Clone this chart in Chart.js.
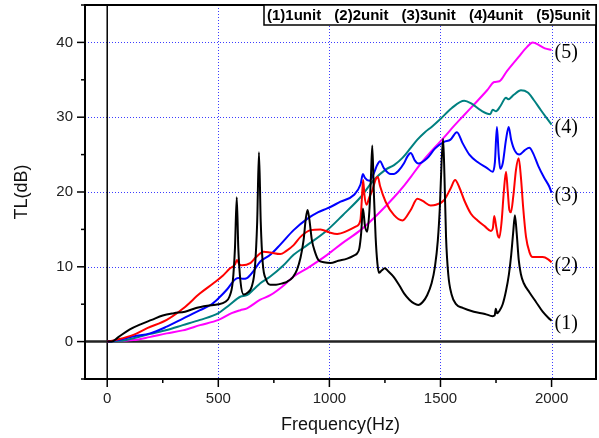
<!DOCTYPE html>
<html>
<head>
<meta charset="utf-8">
<script src="https://cdn.jsdelivr.net/npm/chart.js@4.4.1/dist/chart.umd.min.js"></script>
<style>
  body { margin: 0; background: #fff; }
  canvas { display: block; }
</style>
</head>
<body>
<canvas id="tlChart" width="599" height="438"></canvas>
<script>
// (1) 1 unit
const freq1 = [0, 20, 50, 100, 150, 200, 250, 300, 350, 400, 450, 500, 530, 550, 565, 575, 583, 590, 600, 614, 630, 651, 665, 675, 683, 691, 700, 715, 734, 760, 790, 809, 835, 854, 870, 884, 894, 902, 910, 921, 935, 951, 975, 1005, 1040, 1080, 1110, 1125, 1135, 1143, 1151, 1160, 1170, 1180, 1187, 1193, 1200, 1208, 1216, 1223, 1235, 1249, 1265, 1291, 1315, 1336, 1360, 1381, 1400, 1420, 1440, 1460, 1475, 1488, 1498, 1505, 1512, 1518, 1525, 1535, 1550, 1570, 1600, 1650, 1700, 1735, 1744, 1749, 1755, 1765, 1780, 1795, 1808, 1818, 1827, 1835, 1843, 1852, 1862, 1875, 1900, 1930, 1960, 1985, 2000];
const tl1 = [0, 0, 0.6, 1.6, 2.3, 2.9, 3.5, 3.8, 4.0, 4.5, 4.8, 5.0, 5.3, 6.0, 8.0, 12.5, 19.3, 12.5, 8.0, 6.3, 6.5, 7.4, 10, 16, 25.3, 16, 10.5, 8.3, 7.6, 7.6, 7.8, 8.0, 8.6, 9.6, 11.2, 13.6, 16.5, 17.6, 16.3, 13.6, 12, 10.9, 10.6, 10.5, 10.8, 11.1, 11.5, 11.8, 12.5, 14.5, 17.8, 15.5, 14.7, 17.5, 22, 26.2, 20, 14, 10.5, 9.2, 9.5, 9.8, 9.4, 8.6, 7.5, 6.45, 5.6, 5.1, 4.9, 5.3, 6.2, 7.8, 10, 13.5, 18.5, 24, 27.1, 22, 14, 9, 6.3, 5.0, 4.5, 4.0, 3.7, 3.4, 3.5, 4.4, 3.8, 4.1, 5.0, 6.8, 9, 11.5, 14.5, 16.9, 14.5, 11, 9, 7.8, 6.6, 5.3, 4.0, 3.2, 2.8];

// (2) 2 unit
const freq2 = [0, 50, 118, 180, 268, 343, 418, 478, 520, 553, 575, 584, 595, 607, 644, 670, 704, 734, 779, 805, 839, 870, 915, 960, 1000, 1035, 1080, 1120, 1140, 1146, 1152, 1158, 1167, 1180, 1193, 1210, 1218, 1228, 1253, 1291, 1329, 1366, 1396, 1420, 1456, 1480, 1516, 1546, 1566, 1585, 1607, 1637, 1667, 1700, 1727, 1736, 1742, 1750, 1758, 1765, 1775, 1785, 1795, 1803, 1810, 1817, 1828, 1840, 1852, 1862, 1872, 1885, 1900, 1915, 1960, 1985, 2000];
const tl2 = [0, 0.3, 0.9, 1.8, 2.9, 4.45, 6.45, 7.8, 8.8, 9.8, 10.3, 10.9, 10.3, 10.2, 10.5, 11.3, 12.0, 11.9, 11.7, 12.1, 12.9, 14.0, 14.9, 15.0, 14.6, 14.4, 14.8, 15.4, 16.3, 19, 21.6, 19.5, 18.3, 19.3, 20.2, 21.8, 22, 20.8, 18.7, 16.9, 16.2, 17.6, 19.1, 18.8, 18.2, 18.3, 18.9, 20.5, 21.6, 20.6, 18.9, 17.1, 16.2, 15.4, 14.8, 15.2, 16.8, 15.5, 14.2, 13.9, 16, 20, 22.7, 20, 17.6, 17.3, 19.5, 23, 24.5, 22, 18, 14, 12, 11.3, 11.3, 11.0, 10.6];

// (3) 3 unit
const freq3 = [0, 50, 118, 193, 268, 343, 418, 470, 501, 540, 575, 590, 610, 629, 660, 689, 734, 780, 839, 900, 950, 990, 1050, 1110, 1140, 1151, 1160, 1180, 1200, 1215, 1228, 1245, 1276, 1291, 1310, 1335, 1352, 1366, 1385, 1400, 1440, 1475, 1516, 1545, 1574, 1600, 1630, 1667, 1710, 1735, 1745, 1754, 1762, 1769, 1780, 1795, 1807, 1818, 1835, 1855, 1880, 1900, 1915, 1940, 1965, 1990, 2000];
const tl3 = [0, 0.2, 0.7, 1.1, 2.0, 3.1, 4.2, 5.0, 5.8, 7.0, 8.3, 8.5, 8.4, 8.5, 9.5, 10.7, 11.6, 13.0, 14.9, 16.4, 17.3, 17.8, 18.7, 19.6, 21.0, 22.4, 21.9, 21.5, 22.5, 23.6, 24.1, 23.2, 22.4, 22.4, 22.8, 23.8, 24.8, 25.2, 24.2, 23.8, 24.5, 25.8, 26.7, 27.0, 28.0, 26.5, 25.0, 24.0, 23.2, 22.7, 24, 28.7, 25, 23.1, 23.8, 27, 28.7, 27, 25.5, 25.0, 25.6, 25.9, 25.3, 23.5, 22, 20.7, 19.9];

// (4) 4 unit
const freq4 = [0, 60, 118, 190, 268, 340, 418, 501, 550, 599, 629, 660, 689, 734, 790, 839, 900, 990, 1060, 1140, 1200, 1253, 1291, 1330, 1366, 1396, 1430, 1460, 1501, 1550, 1607, 1640, 1682, 1724, 1735, 1750, 1770, 1795, 1805, 1830, 1862, 1893, 1920, 1953, 1980, 2000];
const tl4 = [0, 0.1, 0.45, 1.0, 1.56, 2.2, 2.9, 3.8, 4.9, 6.0, 6.2, 7.0, 7.8, 8.7, 10.1, 11.6, 12.9, 14.9, 16.9, 19.3, 21.6, 23.0, 23.6, 24.6, 25.9, 27.0, 28.0, 28.7, 29.8, 31.2, 32.2, 31.8, 30.9, 30.4, 31.0, 30.8, 31.5, 32.6, 32.4, 33.0, 33.6, 33.3, 32.3, 30.9, 29.8, 29.0];

// (5) 5 unit
const freq5 = [0, 60, 118, 190, 268, 340, 418, 501, 560, 599, 629, 689, 734, 790, 839, 900, 990, 1060, 1140, 1220, 1291, 1340, 1366, 1411, 1460, 1516, 1560, 1610, 1667, 1710, 1742, 1765, 1800, 1850, 1890, 1915, 1940, 1970, 2000];
const tl5 = [0, 0.1, 0.2, 0.6, 1.1, 1.5, 2.2, 2.9, 3.8, 4.2, 4.45, 5.6, 6.2, 7.4, 8.7, 9.8, 11.6, 13.2, 14.9, 17.1, 19.3, 21.0, 22.0, 23.8, 25.5, 27.3, 28.8, 30.4, 32.2, 33.6, 34.7, 34.8, 36.2, 38.0, 39.4, 40.0, 39.7, 39.2, 39.0];

const seriesNames = ["(1)1unit", "(2)2unit", "(3)3unit", "(4)4unit", "(5)5unit"];
const curveTags = ["(1)", "(2)", "(3)", "(4)", "(5)"];
const seriesColors = ["#000000", "#ff0000", "#0000ff", "#008080", "#ff00ff"];

const xTicks = [0, 500, 1000, 1500, 2000];
const xMinorTicks = [250, 750, 1250, 1750];
const yTicks = [0, 10, 20, 30, 40];
const yMinorTicks = [-5, 5, 15, 25, 35, 45];

const allFreq = [freq1, freq2, freq3, freq4, freq5];
const allTl = [tl1, tl2, tl3, tl4, tl5];

const datasets = allFreq.map((fr, k) => ({
    label: seriesNames[k],
    data: fr.map((f, i) => ({ x: f, y: allTl[k][i] })),
    borderColor: seriesColors[k],
    borderWidth: 2,
    pointRadius: 0,
    fill: false,
    cubicInterpolationMode: "monotone"
}))

function strokeLine(ctx, x1, y1, x2, y2) {
    ctx.beginPath()
    ctx.moveTo(x1, y1)
    ctx.lineTo(x2, y2)
    ctx.stroke()
}

// no automatic label padding, the area is fixed by hand
function fixScale(s, size) {
    if (s.isHorizontal()) s.height = size
    else s.width = size
    s.paddingTop = 0
    s.paddingBottom = 0
    s.paddingLeft = 0
    s.paddingRight = 0
}

const decorPlugin = {
    id: "decor",
    beforeDatasetsDraw(chart) {
        const { ctx, chartArea: a, scales: { x, y } } = chart
        ctx.save()
        // dotted blue grid
        ctx.strokeStyle = "#3c3cff"
        ctx.lineWidth = 1
        ctx.setLineDash([1, 2])
        xTicks.forEach(v => {
            if (v === 0) return
            const px = Math.round(x.getPixelForValue(v)) + 0.5
            strokeLine(ctx, px, a.top, px, a.bottom)
        })
        yTicks.forEach(v => {
            if (v === 0) return
            const py = Math.round(y.getPixelForValue(v)) + 0.5
            strokeLine(ctx, a.left, py, a.right, py)
        })
        ctx.setLineDash([])
        // zero lines
        ctx.strokeStyle = "#000"
        ctx.lineWidth = 1.5
        const x0 = x.getPixelForValue(0)
        strokeLine(ctx, x0, a.top, x0, a.bottom)
        ctx.strokeStyle = "#222"
        ctx.lineWidth = 2.5
        const y0 = y.getPixelForValue(0)
        strokeLine(ctx, a.left, y0, a.right, y0)
        ctx.restore()
    },
    afterDatasetsDraw(chart) {
        const { ctx, chartArea: a, scales: { x, y } } = chart
        ctx.save()
        // frame
        ctx.strokeStyle = "#000"
        ctx.lineWidth = 2
        ctx.strokeRect(a.left, a.top, a.right - a.left, a.bottom - a.top)
        // ticks
        ctx.lineWidth = 1.5
        xTicks.forEach(v => { const px = x.getPixelForValue(v); strokeLine(ctx, px, a.bottom, px, a.bottom + 8) })
        xMinorTicks.forEach(v => { const px = x.getPixelForValue(v); strokeLine(ctx, px, a.bottom, px, a.bottom + 4) })
        yTicks.forEach(v => { const py = y.getPixelForValue(v); strokeLine(ctx, a.left - 8, py, a.left, py) })
        yMinorTicks.forEach(v => { const py = y.getPixelForValue(v); strokeLine(ctx, a.left - 4, py, a.left, py) })

        // legend box
        const boxLeft = a.right - 332
        ctx.fillStyle = "#fff"
        ctx.fillRect(boxLeft, a.top, a.right - boxLeft, 20)
        ctx.lineWidth = 1.5
        ctx.strokeRect(boxLeft, a.top, a.right - boxLeft, 20)
        ctx.fillStyle = "#000"
        ctx.font = "bold 15px 'Liberation Sans', Arial, sans-serif"
        ctx.textAlign = "left"
        ctx.textBaseline = "middle"
        seriesNames.forEach((name, i) => {
            ctx.fillText(name, boxLeft + 3 + i * 67.3, a.top + 11)
        })

        // curve tags at line ends
        ctx.font = "20px 'Liberation Serif', 'Times New Roman', serif"
        allFreq.forEach((fr, k) => {
            const last = fr.length - 1
            const px = x.getPixelForValue(fr[last]) + 3
            const py = y.getPixelForValue(allTl[k][last]) + 3
            ctx.fillText(curveTags[k], px, py)
        })

        // axis titles
        ctx.fillStyle = "#111"
        ctx.font = "18px 'Liberation Sans', Arial, sans-serif"
        ctx.textAlign = "center"
        ctx.fillText("Frequency(Hz)", (a.left + a.right) / 2, 425)
        ctx.translate(22, (a.top + a.bottom) / 2)
        ctx.rotate(-Math.PI / 2)
        ctx.fillText("TL(dB)", 0, 0)
        ctx.restore()
    }
}

const tickFont = { family: "'Liberation Sans', Arial, sans-serif", size: 15 }

new Chart(document.getElementById("tlChart").getContext("2d"), {
    type: "line",
    data: { datasets: datasets },
    options: {
        responsive: false,
        animation: false,
        devicePixelRatio: 1,
        layout: { padding: { top: 5, right: 3, left: 0, bottom: 0 } },
        plugins: {
            legend: { display: false },
            tooltip: { enabled: false }
        },
        scales: {
            x: {
                type: "linear",
                min: -100,
                max: 2200,
                afterBuildTicks: s => { s.ticks = xTicks.map(v => ({ value: v })) },
                afterFit: s => fixScale(s, 59),
                grid: { display: false, drawTicks: false },
                border: { display: false },
                ticks: { font: tickFont, color: "#222", padding: 11, maxRotation: 0, autoSkip: false, callback: v => String(v) }
            },
            y: {
                type: "linear",
                min: -5,
                max: 45,
                afterBuildTicks: s => { s.ticks = yTicks.map(v => ({ value: v })) },
                afterFit: s => fixScale(s, 85),
                grid: { display: false, drawTicks: false },
                border: { display: false },
                ticks: { font: tickFont, color: "#222", padding: 12, autoSkip: false, callback: v => String(v) }
            }
        }
    },
    plugins: [decorPlugin]
});
</script>
</body>
</html>
